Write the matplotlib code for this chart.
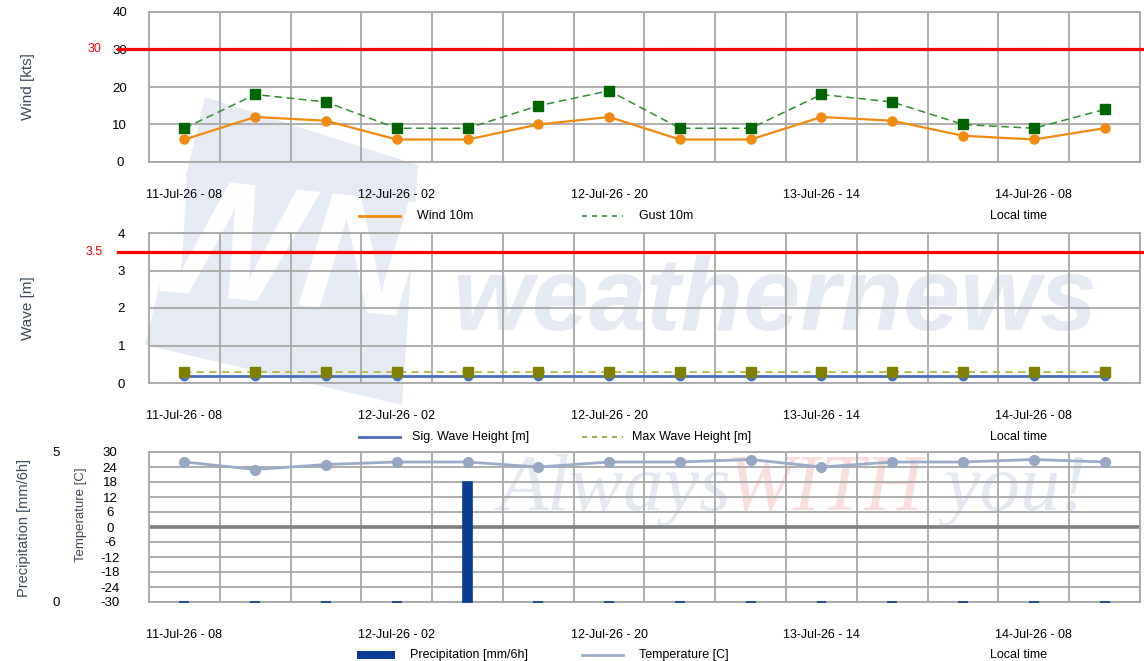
import matplotlib
matplotlib.use('Agg')
from matplotlib import pyplot as plt
from matplotlib.lines import Line2D
from matplotlib.patches import Polygon, Rectangle
import matplotlib.transforms as mtransforms
import numpy as np

plt.rcParams['font.family'] = ['Liberation Sans', 'DejaVu Sans']
plt.rcParams['axes.unicode_minus'] = False

# 6-hourly forecast steps, local time
times = ['11-Jul-26 - 08', '11-Jul-26 - 14', '11-Jul-26 - 20', '12-Jul-26 - 02',
         '12-Jul-26 - 08', '12-Jul-26 - 14', '12-Jul-26 - 20', '13-Jul-26 - 02',
         '13-Jul-26 - 08', '13-Jul-26 - 14', '13-Jul-26 - 20', '14-Jul-26 - 02',
         '14-Jul-26 - 08', '14-Jul-26 - 14']
wind = [6, 12, 11, 6, 6, 10, 12, 6, 6, 12, 11, 7, 6, 9]
gust = [9, 18, 16, 9, 9, 15, 19, 9, 9, 18, 16, 10, 9, 14]
sig_wave = [0.2, 0.2, 0.2, 0.2, 0.2, 0.2, 0.2, 0.2, 0.2, 0.2, 0.2, 0.2, 0.2, 0.2]
max_wave = [0.3, 0.3, 0.3, 0.3, 0.3, 0.3, 0.3, 0.3, 0.3, 0.3, 0.3, 0.3, 0.3, 0.3]
temp = [26, 23, 25, 26, 26, 24, 26, 26, 27, 24, 26, 26, 27, 26]
precip = [0, 0, 0, 0, 4, 0, 0, 0, 0, 0, 0, 0, 0, 0]
wind_limit = 30
wave_limit = 3.5

W, H = 1144, 661
fig = plt.figure(figsize=(W / 100, H / 100), dpi=100)


def fx(px):
    return px / W


def fy(py):
    return 1 - py / H


x = np.arange(len(times))
label_idx = x[::3]

GRID = '#a8a8a8'
LBL = '#3d4a5c'

# ---- watermark (behind everything)
fig.add_artist(Polygon([(fx(205), fy(97)), (fx(418), fy(165)), (fx(402), fy(405)), (fx(145), fy(345))],
                       closed=True, transform=fig.transFigure, facecolor='#e6ebf3',
                       edgecolor='none', zorder=-10))
fig.text(fx(282), fy(262), 'WN', transform=fig.transFigure, fontsize=120, fontweight='bold',
         style='italic', color='white', ha='center', va='center', rotation=-6, zorder=-9)
fig.text(fx(452), fy(330), 'weathernews', fontsize=74, fontweight='bold', style='italic',
         color='#e5e9f2', ha='left', va='baseline', zorder=-9)
wm = dict(family=['Liberation Serif', 'DejaVu Serif'], style='italic', fontsize=58,
          va='baseline', zorder=-9)
fig.text(fx(498), fy(510), 'Always', color='#e3e8f1', **wm)
fig.text(fx(727), fy(510), 'WITH', color='#f9dede', **wm)
fig.text(fx(945), fy(510), 'you!', color='#e3e8f1', **wm)


def make_axes(top, ymin, ymax, yticks, tick_pad):
    ax = fig.add_axes([fx(149), fy(top + 150), fx(991), 150 / H])
    ax.set_facecolor('none')
    ax.set_xlim(-0.5, len(times) - 0.5)
    ax.set_ylim(ymin, ymax)
    ax.set_yticks(yticks)
    for b in np.arange(-0.5, len(times), 1.0):
        ax.axvline(b, color=GRID, lw=1.3, zorder=1)
    for t in yticks:
        ax.axhline(t, color=GRID, lw=1.3, zorder=1)
    for s in ax.spines.values():
        s.set_color(GRID)
        s.set_linewidth(1.3)
    ax.set_xticks(label_idx)
    ax.set_xticklabels([times[i] for i in label_idx], fontsize=9)
    ax.tick_params(axis='x', length=0, pad=19.5)
    ax.tick_params(axis='y', length=0, pad=tick_pad, labelsize=9.5)
    for lab in ax.get_yticklabels():
        lab.set_ha('center')
    return ax


def limit_line(ax, val, text):
    tr = mtransforms.blended_transform_factory(ax.transAxes, ax.transData)
    ax.plot([-0.031, 1.01], [val, val], color='#ff0000', lw=2.3, transform=tr,
            clip_on=False, zorder=4)
    ax.text(-0.055, val, text, color='#ff0000', fontsize=9, ha='center', va='center',
            transform=tr)


# ---- wind panel
ax1 = make_axes(12, 0, 40, [0, 10, 20, 30, 40], 21)
limit_line(ax1, wind_limit, str(wind_limit))
ax1.plot(x, gust, color='#2f8f2f', lw=1.1, ls=(0, (5, 3)), zorder=5)
ax1.plot(x, gust, ls='none', marker='s', ms=7, color='#006400', zorder=6)
ax1.plot(x, wind, color='#f08a10', lw=1.6, marker='o', ms=6.5, zorder=6)

# ---- wave panel
ax2 = make_axes(233, 0, 4, [0, 1, 2, 3, 4], 20)
limit_line(ax2, wave_limit, str(wave_limit))
ax2.plot(x, sig_wave, color='#4a6fb5', lw=2, marker='o', ms=6, mfc='#4472c4', mec='#4472c4',
         zorder=5)
ax2.plot(x, max_wave, color='#b5b54a', lw=1.3, ls=(0, (4, 3)), zorder=6)
ax2.plot(x, max_wave, ls='none', marker='s', ms=7.5, color='#7f7f00', zorder=7)

# ---- precipitation / temperature panel
ax3 = make_axes(452, -30, 30, list(range(-30, 31, 6)), 28)
ax3.axhline(0, color='#808080', lw=2.6, zorder=2)
ax3.plot(x, temp, color='#9aacc9', lw=2, marker='o', ms=7, mfc='#97a6c2', mec='#97a6c2',
         zorder=6)
axp = ax3.twinx()
axp.set_facecolor('none')
axp.set_ylim(0, 5)
axp.set_yticks([0, 5])
axp.yaxis.tick_left()
axp.tick_params(axis='y', length=0, pad=67, labelsize=9.5)
for lab in axp.get_yticklabels():
    lab.set_ha('center')
for s in axp.spines.values():
    s.set_visible(False)
bars = axp.bar(x, precip, width=0.14, color='#0b3c94', edgecolor='#0b3c94', lw=1.2, zorder=5)
for b in bars:
    b.set_clip_on(False)

# ---- axis titles
fig.text(fx(28), fy(87), 'Wind [kts]', rotation=90, ha='center', va='center', fontsize=11,
         color=LBL)
fig.text(fx(28), fy(308), 'Wave [m]', rotation=90, ha='center', va='center', fontsize=11,
         color=LBL)
fig.text(fx(24), fy(528), 'Precipitation [mm/6h]', rotation=90, ha='center', va='center',
         fontsize=10.5, color=LBL)
fig.text(fx(81), fy(515), 'Temperature [C]', rotation=90, ha='center', va='center',
         fontsize=9.5, color=LBL)


# ---- legends
def leg_line(y, x0, color, ls='-', lw=2):
    fig.add_artist(Line2D([fx(x0), fx(x0 + 41)], [fy(y), fy(y)], color=color, ls=ls, lw=lw,
                          transform=fig.transFigure))


def leg_text(y, x0, s):
    fig.text(fx(x0), fy(y), s, fontsize=9, ha='left', va='center')


leg_line(216, 359, '#f08a10')
leg_text(216, 417, 'Wind 10m')
leg_line(216, 582, '#2f8f2f', ls=(0, (3, 3)), lw=1.2)
leg_text(216, 639, 'Gust 10m')
leg_text(216, 990, 'Local time')

leg_line(437, 359, '#4a6fb5')
leg_text(437, 412, 'Sig. Wave Height [m]')
leg_line(437, 582, '#9a9a30', ls=(0, (3, 3)), lw=1.2)
leg_text(437, 632, 'Max Wave Height [m]')
leg_text(437, 990, 'Local time')

fig.add_artist(Rectangle((fx(357), fy(659)), fx(38), 8 / H, transform=fig.transFigure,
                         facecolor='#0b3c94', edgecolor='none'))
leg_text(655, 410, 'Precipitation [mm/6h]')
leg_line(655, 582, '#9aacc9')
leg_text(655, 639, 'Temperature [C]')
leg_text(655, 990, 'Local time')

fig.savefig('out.png', dpi=100)
